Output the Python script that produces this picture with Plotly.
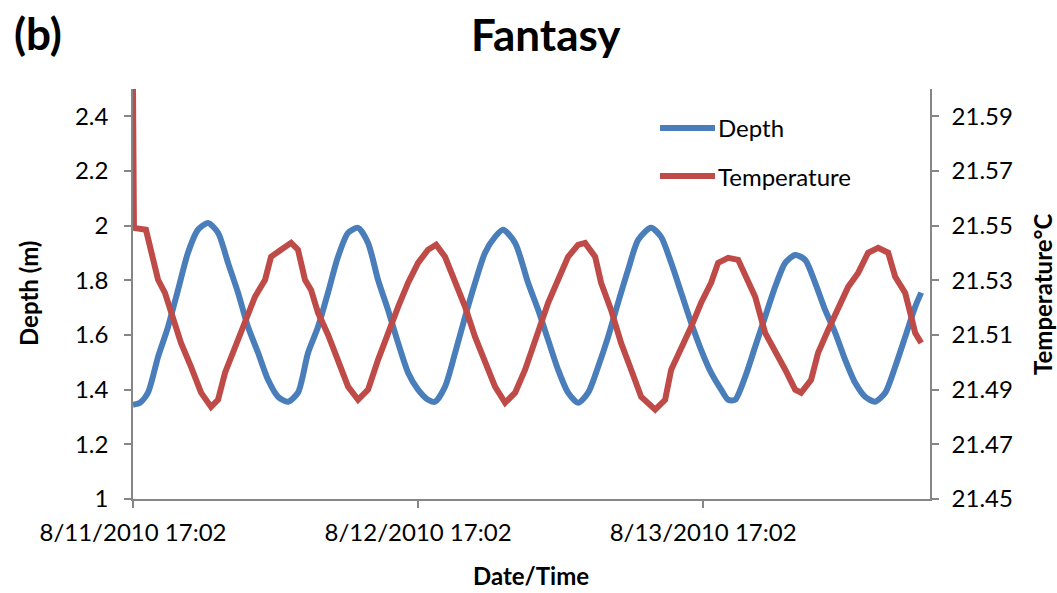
import pandas as pd
import plotly.graph_objects as go

# Logger record start
START = pd.Timestamp("2010-08-11 17:02")

# Water depth (m), hours since start
depth_hours = [0.00, 0.59, 1.26, 2.11, 2.95, 3.79, 4.63, 5.47, 6.32, 7.16, 8.00, 8.84, 9.68,
               10.53, 11.37, 12.21, 13.05, 13.89, 14.74, 15.58, 16.42, 17.26, 18.11, 18.95,
               19.79, 20.63, 21.47, 22.32, 23.16, 24.00, 24.84, 25.43, 26.27, 27.12, 27.96,
               28.80, 29.64, 30.48, 31.16, 32.17, 33.26, 34.11, 34.95, 35.79, 36.63, 37.47,
               38.32, 39.16, 40.00, 40.84, 41.68, 42.53, 43.62, 44.46, 45.31, 46.15, 46.99,
               47.83, 48.67, 49.52, 50.11, 50.69, 51.54, 52.38, 53.22, 54.06, 54.91, 55.75,
               56.59, 57.43, 58.27, 59.12, 59.96, 60.80, 61.64, 62.48, 63.33, 64.17, 65.01,
               65.85, 66.36]
depth_m = [1.345, 1.352, 1.389, 1.520, 1.630, 1.765, 1.901, 1.985, 2.010, 1.974, 1.864, 1.755,
           1.630, 1.535, 1.436, 1.374, 1.356, 1.389, 1.535, 1.630, 1.755, 1.886, 1.974, 1.992,
           1.937, 1.802, 1.692, 1.571, 1.462, 1.400, 1.363, 1.356, 1.411, 1.535, 1.667, 1.791,
           1.901, 1.959, 1.985, 1.937, 1.791, 1.692, 1.582, 1.473, 1.389, 1.352, 1.389, 1.484,
           1.593, 1.718, 1.838, 1.948, 1.992, 1.959, 1.864, 1.755, 1.645, 1.546, 1.462, 1.400,
           1.363, 1.363, 1.447, 1.557, 1.667, 1.776, 1.864, 1.893, 1.875, 1.791, 1.692, 1.608,
           1.509, 1.425, 1.374, 1.356, 1.389, 1.484, 1.593, 1.703, 1.755]

# Water temperature (°C), hours since start
temp_hours = [0.00, 0.08, 1.09, 1.52, 2.11, 2.69, 3.20, 4.04, 4.88, 5.73, 6.57, 7.16, 7.75,
              8.59, 9.43, 10.27, 11.12, 11.62, 12.46, 13.31, 13.89, 14.48, 14.99, 15.58,
              16.42, 17.26, 18.11, 18.95, 19.79, 20.63, 21.47, 22.32, 23.16, 24.00, 24.84,
              25.52, 26.27, 27.12, 27.96, 28.80, 29.64, 30.48, 31.33, 32.17, 33.01, 34.11,
              34.95, 35.79, 36.63, 37.47, 38.06, 38.91, 39.41, 40.25, 41.09, 41.94, 42.78,
              43.96, 44.80, 45.31, 46.15, 46.99, 47.83, 48.67, 49.26, 50.11, 50.95, 51.79,
              52.38, 53.22, 54.06, 54.91, 55.75, 56.25, 57.09, 57.68, 58.53, 59.37, 60.21,
              61.05, 61.89, 62.74, 63.58, 64.17, 65.01, 65.52, 65.85, 66.36]
temp_c = [21.600, 21.5492, 21.5485, 21.5412, 21.5302, 21.5254, 21.5181, 21.5071, 21.4984,
          21.4889, 21.4837, 21.4863, 21.4962, 21.5057, 21.5145, 21.5240, 21.5302, 21.5386,
          21.5412, 21.5437, 21.5412, 21.5302, 21.5265, 21.5181, 21.5101, 21.5009, 21.4911,
          21.4863, 21.4900, 21.5009, 21.5108, 21.5203, 21.5291, 21.5364, 21.5412, 21.5430,
          21.5386, 21.5291, 21.5203, 21.5093, 21.4998, 21.4911, 21.4852, 21.4889, 21.4973,
          21.5119, 21.5218, 21.5302, 21.5386, 21.5430, 21.5437, 21.5386, 21.5291, 21.5192,
          21.5071, 21.4973, 21.4874, 21.4827, 21.4863, 21.4973, 21.5046, 21.5130, 21.5218,
          21.5291, 21.5364, 21.5382, 21.5375, 21.5291, 21.5240, 21.5108, 21.5046, 21.4973,
          21.4900, 21.4889, 21.4936, 21.5035, 21.5119, 21.5203, 21.5276, 21.5327, 21.5401,
          21.5419, 21.5401, 21.5313, 21.5254, 21.5167, 21.5108, 21.5071]

# Axis ticks
x_tick_days = [0, 1, 2]
x_tick_labels = ["8/11/2010 17:02", "8/12/2010 17:02", "8/13/2010 17:02"]
depth_ticks = [1.0, 1.2, 1.4, 1.6, 1.8, 2.0, 2.2, 2.4]
depth_tick_labels = ["1", "1.2", "1.4", "1.6", "1.8", "2", "2.2", "2.4"]
temp_ticks = [21.45, 21.47, 21.49, 21.51, 21.53, 21.55, 21.57, 21.59]
temp_tick_labels = ["21.45", "21.47", "21.49", "21.51", "21.53", "21.55", "21.57", "21.59"]

BLUE = "#4A7EBB"
RED = "#BE4B48"
AXIS = "#868686"
FONT = "Lato, 'Open Sans', sans-serif"

depth_t = [START + pd.Timedelta(hours=h) for h in depth_hours]
temp_t = [START + pd.Timedelta(hours=h) for h in temp_hours]

fig = go.Figure()
fig.add_trace(go.Scatter(x=depth_t, y=depth_m, mode="lines", name="Depth",
                         line=dict(color=BLUE, width=6, shape="spline", smoothing=0.7),
                         yaxis="y"))
fig.add_trace(go.Scatter(x=temp_t, y=temp_c, mode="lines", name="Temperature",
                         line=dict(color=RED, width=6, shape="linear"),
                         yaxis="y2"))

tick_font = dict(family=FONT, size=24, color="#000000")
title_font = dict(family=FONT, size=24, color="#000000", weight="bold")

fig.update_layout(
    width=1057, height=593,
    margin=dict(l=133, r=127, t=89, b=94),
    paper_bgcolor="white", plot_bgcolor="white",
    showlegend=False,
    xaxis=dict(
        type="date",
        range=[START, START + pd.Timedelta(hours=67.1)],
        tickvals=[START + pd.Timedelta(days=d) for d in x_tick_days],
        ticktext=x_tick_labels,
        ticks="outside", ticklen=7, tickcolor=AXIS, tickwidth=1.5,
        showline=True, linecolor=AXIS, linewidth=1.5,
        showgrid=False, zeroline=False,
        tickfont=tick_font, ticklabelstandoff=4,
    ),
    yaxis=dict(
        range=[1, 2.5],
        tickvals=depth_ticks, ticktext=depth_tick_labels,
        ticks="outside", ticklen=7, tickcolor=AXIS, tickwidth=1.5,
        showline=True, linecolor=AXIS, linewidth=1.5,
        showgrid=False, zeroline=False,
        tickfont=tick_font, ticklabelstandoff=11,
    ),
    yaxis2=dict(
        range=[21.45, 21.60],
        overlaying="y", side="right",
        tickvals=temp_ticks, ticktext=temp_tick_labels,
        ticks="outside", ticklen=7, tickcolor=AXIS, tickwidth=1.5,
        showline=True, linecolor=AXIS, linewidth=1.5,
        showgrid=False, zeroline=False,
        tickfont=tick_font, ticklabelstandoff=8,
    ),
)

# Titles
annotations = [
    dict(text="<b>Fantasy</b>", x=546, y=34),
    dict(text="<b>(b)</b>", x=38, y=33),
]
for a in annotations:
    fig.add_annotation(text=a["text"], xref="paper", yref="paper",
                       x=(a["x"] - 133) / 797, y=(499 - a["y"]) / 410,
                       xanchor="center", yanchor="middle", showarrow=False,
                       font=dict(family=FONT, size=44, color="#000000"))

fig.add_annotation(text="<b>Date/Time</b>", xref="paper", yref="paper",
                   x=(531 - 133) / 797, y=(499 - 575) / 410,
                   xanchor="center", yanchor="middle", showarrow=False, font=title_font)
fig.add_annotation(text="<b>Depth (m)</b>", xref="paper", yref="paper",
                   x=(28 - 133) / 797, y=(499 - 294) / 410, textangle=-90,
                   xanchor="center", yanchor="middle", showarrow=False, font=title_font)
fig.add_annotation(text="<b>Temperature°C</b>", xref="paper", yref="paper",
                   x=(1042 - 133) / 797, y=(499 - 294) / 410, textangle=-90,
                   xanchor="center", yanchor="middle", showarrow=False, font=title_font)

# Legend drawn inside the plot area
legend_items = [("Depth", BLUE, 128), ("Temperature", RED, 176)]
for name, color, ypx in legend_items:
    yp = (499 - ypx) / 410
    fig.add_shape(type="line", xref="paper", yref="paper",
                  x0=(660 - 133) / 797, x1=(715 - 133) / 797, y0=yp, y1=yp,
                  line=dict(color=color, width=6))
    fig.add_annotation(text=name, xref="paper", yref="paper",
                       x=(716 - 133) / 797, y=yp, xanchor="left", yanchor="middle",
                       showarrow=False, font=dict(family=FONT, size=24, color="#000000"))

fig.write_html("out.html")
